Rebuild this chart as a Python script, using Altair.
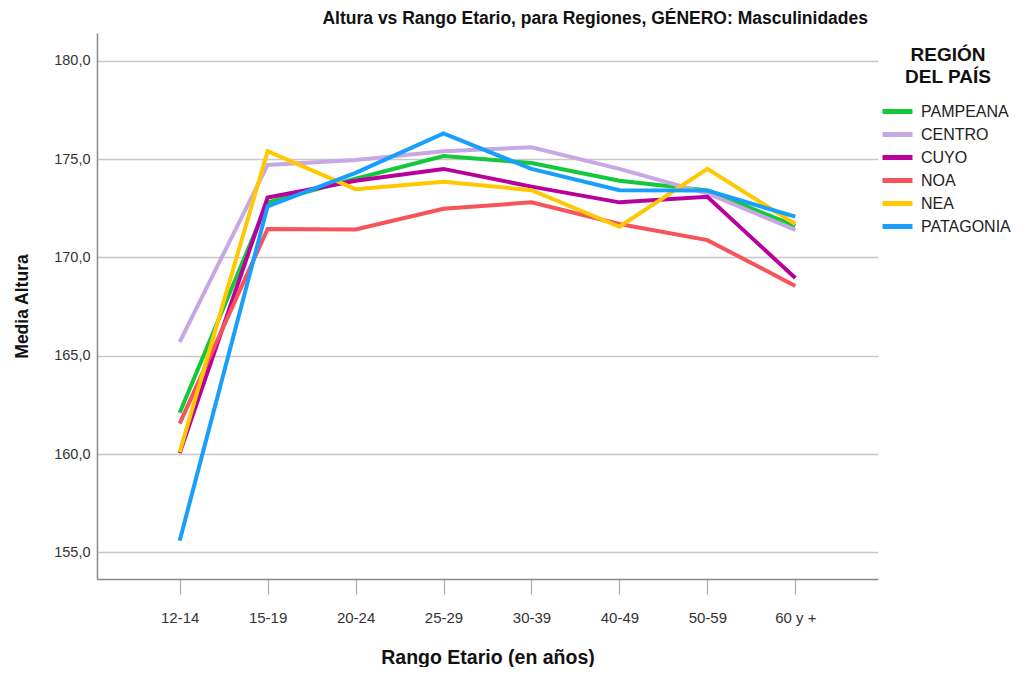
import altair as alt
import pandas as pd

ages = ["12-14", "15-19", "20-24", "25-29", "30-39", "40-49", "50-59", "60 y +"]
regions = ["PAMPEANA", "CENTRO", "CUYO", "NOA", "NEA", "PATAGONIA"]
colors = ["#14c83c", "#c8a8e2", "#ba009c", "#f7535a", "#ffc800", "#189ffc"]

pampeana = [162.1, 172.8, 174.0, 175.15, 174.8, 173.9, 173.4, 171.6]
centro = [165.7, 174.7, 174.95, 175.4, 175.6, 174.5, 173.25, 171.4]
cuyo = [160.05, 173.05, 173.9, 174.5, 173.6, 172.8, 173.08, 168.95]
noa = [161.55, 171.45, 171.42, 172.47, 172.8, 171.7, 170.88, 168.55]
nea = [160.1, 175.4, 173.47, 173.85, 173.42, 171.56, 174.5, 171.7]
patagonia = [155.6, 172.6, 174.3, 176.3, 174.5, 173.42, 173.4, 172.07]

series = [pampeana, centro, cuyo, noa, nea, patagonia]
rows = []
for r, vals in zip(regions, series):
    for a, v in zip(ages, vals):
        rows.append({"edad": a, "region": r, "altura": v})
df = pd.DataFrame(rows)

FONT = "Liberation Sans"

chart = alt.Chart(df).mark_line(strokeWidth=4, strokeCap="butt", strokeJoin="miter").encode(
    x=alt.X("edad:N", sort=ages, scale=alt.Scale(type="point", padding=0.94),
            axis=alt.Axis(title="Rango Etario (en años)", labelAngle=0, grid=False,
                          domainColor="#888888", domainWidth=1.5, tickColor="#aaaaaa",
                          tickSize=15, tickWidth=1.2, labelPadding=16,
                          labelFont=FONT, labelFontSize=15,
                          labelColor="#333333", titleFont=FONT,
                          titleFontSize=19.5, titleFontWeight="bold", titleColor="#111111",
                          titlePadding=23)),
    y=alt.Y("altura:Q", scale=alt.Scale(domain=[153.65, 181.41], nice=False, zero=False),
            axis=alt.Axis(title="Media Altura", values=[155, 160, 165, 170, 175, 180],
                          labelExpr="replace(format(datum.value, '.1f'), '.', ',')",
                          grid=True, gridColor="#c8c8c8", gridWidth=1.5, ticks=False,
                          domainColor="#888888", domainWidth=1.5, labelPadding=7,
                          labelFont=FONT, labelFontSize=14.5, labelColor="#333333",
                          titleFont=FONT, titleFontSize=17.5,
                          titleFontWeight="bold", titleColor="#111111", titlePadding=22)),
    color=alt.Color("region:N", sort=regions,
                    scale=alt.Scale(domain=regions, range=colors),
                    legend=alt.Legend(title=["REGIÓN", "DEL PAÍS"], orient="none",
                                      legendX=788, legendY=13,
                                      symbolType="M-1.5,0L1.5,0",
                                      symbolSize=400, symbolStrokeWidth=5,
                                      titleFont=FONT, titleFontSize=19,
                                      titleFontWeight="bold", titleColor="#111111",
                                      titleAnchor="middle", titleAlign="center",
                                      titleLineHeight=22, titlePadding=12,
                                      labelFont=FONT, labelFontSize=16,
                                      labelColor="#222222", labelOffset=11, rowPadding=0)),
    order=alt.Order("edad:N"),
).properties(
    width=781, height=546,
    title=alt.TitleParams("Altura vs Rango Etario, para Regiones, GÉNERO: Masculinidades",
                          anchor="end", frame="group", dx=-10, fontSize=17.5, font=FONT,
                          fontWeight="bold", color="#111111", offset=6),
    autosize=alt.AutoSizeParams(type="none"),
    padding={"left": 89, "top": 25, "right": 140, "bottom": 88},
).configure_view(stroke=None)

chart.save("out.html", embed_options={"renderer": "svg", "actions": False})
